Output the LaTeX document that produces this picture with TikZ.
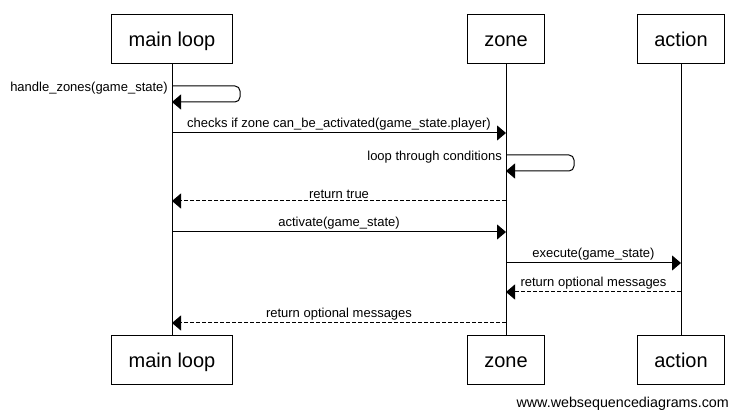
\documentclass[tikz,border=0pt]{standalone}
\usepackage{fontspec}
\setmainfont{Liberation Sans}
\usetikzlibrary{arrows.meta}

\begin{document}
\begin{tikzpicture}[x=1pt, y=-1pt,
    actor/.style={draw, line width=1pt, minimum height=49pt, inner xsep=17pt,
        text height=16.5pt, text depth=2pt,
        font=\fontsize{20}{24}\selectfont},
    msg/.style={line width=1pt, -{Triangle[length=9pt, width=15pt]}},
    reply/.style={msg, dash pattern=on 4pt off 2pt},
    selfmsg/.style={msg, rounded corners=5pt},
    lbl/.style={font=\fontsize{13}{15}\selectfont, inner sep=2pt}]
    \def\topY{39.5}
    \def\botY{360.5}

    \useasboundingbox (0,0) rectangle (739,419);

    % Participants
    \node[actor, minimum width=121pt] (mainTop) at (172,\topY) {main loop};
    \node[actor, minimum width=77pt] (zoneTop) at (506,\topY) {zone};
    \node[actor, minimum width=85pt] (actionTop) at (681,\topY) {action};
    \node[actor, minimum width=121pt] (mainBot) at (172,\botY) {main loop};
    \node[actor, minimum width=77pt] (zoneBot) at (506,\botY) {zone};
    \node[actor, minimum width=85pt] (actionBot) at (681,\botY) {action};

    % Draw lifelines
    \draw[line width=1pt] (mainTop) -- (mainBot);
    \draw[line width=1pt] (zoneTop) -- (zoneBot);
    \draw[line width=1pt] (actionTop) -- (actionBot);

    % Message points
    \coordinate (m1) at (mainTop |- 0,86);
    \coordinate (m2) at (mainTop |- 0,102);
    \coordinate (m3) at (mainTop |- 0,133);
    \coordinate (z3) at (zoneTop |- 0,133);
    \coordinate (z4) at (zoneTop |- 0,155);
    \coordinate (z5) at (zoneTop |- 0,171);
    \coordinate (z6) at (zoneTop |- 0,201);
    \coordinate (m6) at (mainTop |- 0,201);
    \coordinate (m7) at (mainTop |- 0,232);
    \coordinate (z7) at (zoneTop |- 0,232);
    \coordinate (z8) at (zoneTop |- 0,263);
    \coordinate (a8) at (actionTop |- 0,263);
    \coordinate (a9) at (actionTop |- 0,292);
    \coordinate (z9) at (zoneTop |- 0,292);
    \coordinate (z10) at (zoneTop |- 0,323);
    \coordinate (m10) at (mainTop |- 0,323);

    % Messages
    \draw[selfmsg] (m1) -- (240,86) -- (240,102) -- (m2);
    \node[lbl, anchor=east] (l1) at (170,88) {handle\_zones(game\_state)};

    \draw[msg] (m3) -- node[lbl, above] (l2) {checks if zone can\_be\_activated(game\_state.player)} (z3);

    \draw[selfmsg] (z4) -- (574,155) -- (574,171) -- (z5);
    \node[lbl, anchor=east] (l3) at (504,157) {loop through conditions};

    \draw[reply] (z6) -- node[lbl, above] (l4) {return true} (m6);
    \draw[msg] (m7) -- node[lbl, above] (l5) {activate(game\_state)} (z7);
    \draw[msg] (z8) -- node[lbl, above] (l6) {execute(game\_state)} (a8);
    \draw[reply] (a9) -- node[lbl, above] (l7) {return optional messages} (z9);
    \draw[reply] (z10) -- node[lbl, above] (l8) {return optional messages} (m10);

    % Footer
    \node[lbl, anchor=east, font=\fontsize{14.3}{16}\selectfont] (url) at (731,404) {www.websequencediagrams.com};
\end{tikzpicture}
\end{document}
